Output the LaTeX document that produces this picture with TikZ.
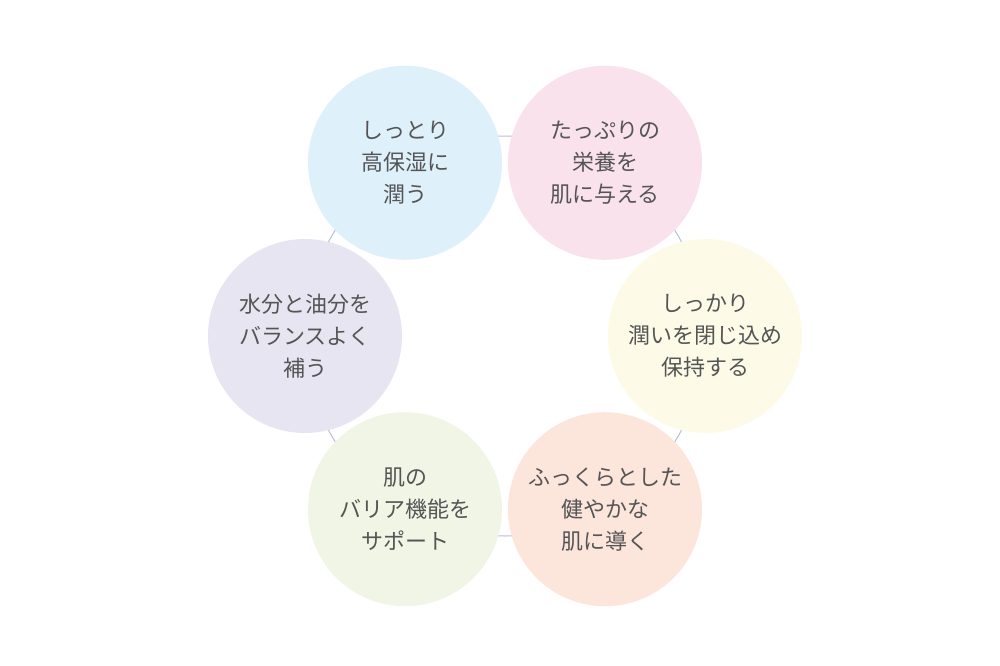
\documentclass[tikz,border=0pt]{standalone}
\usepackage{fontspec}
\setmainfont{Noto Sans CJK JP}
\usepackage{tikz}
\usepackage{xcolor}

\definecolor{textgray}{HTML}{555555}
\definecolor{ringgray}{HTML}{BDBCD6}
\definecolor{skyblue}{HTML}{DEF0FA}
\definecolor{sakura}{HTML}{F9E2EC}
\definecolor{cream}{HTML}{FDFBE7}
\definecolor{peach}{HTML}{FCE5DB}
\definecolor{leaf}{HTML}{F0F5E6}
\definecolor{lilac}{HTML}{E7E5F2}

\tikzset{
  bubble/.style={circle, minimum size=194pt, inner sep=0pt, align=center,
    font=\fontsize{22}{32}\selectfont, text=textgray},
  ring/.style={draw=ringgray, line width=1pt}
}

\begin{document}
\begin{tikzpicture}[x=1pt, y=1pt]
  \useasboundingbox[fill=white] (0,0) rectangle (1000,665);
  \coordinate (hub) at (505,329);
  \draw[ring] (hub) circle (200);

  \node[bubble, fill=skyblue] (moist) at ([shift={(120:200)}]hub) {しっとり\\高保湿に\\潤う};
  \node[bubble, fill=sakura] (nourish) at ([shift={(60:200)}]hub) {たっぷりの\\栄養を\\肌に与える};
  \node[bubble, fill=cream] (seal) at ([shift={(0:200)}]hub) {しっかり\\潤いを閉じ込め\\保持する};
  \node[bubble, fill=peach] (plump) at ([shift={(-60:200)}]hub) {ふっくらとした\\健やかな\\肌に導く};
  \node[bubble, fill=leaf] (barrier) at ([shift={(-120:200)}]hub) {肌の\\バリア機能を\\サポート};
  \node[bubble, fill=lilac] (balance) at ([shift={(180:200)}]hub) {水分と油分を\\バランスよく\\補う};
\end{tikzpicture}
\end{document}
